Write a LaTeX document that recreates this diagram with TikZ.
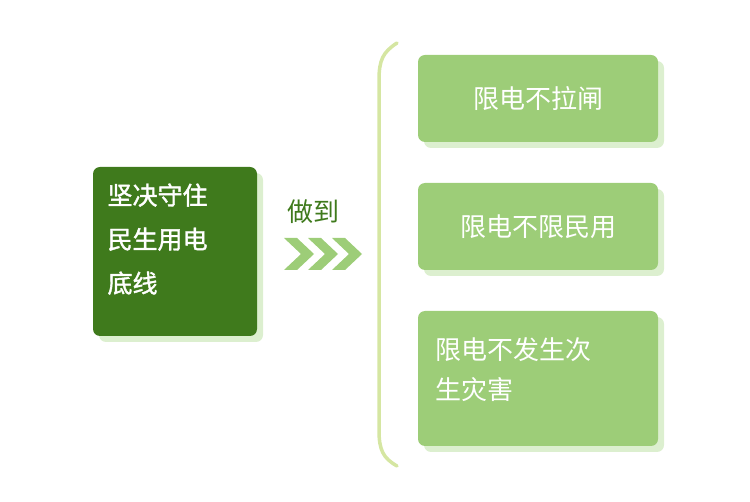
\documentclass[tikz,border=0pt]{standalone}
\usepackage{fontspec}
\newfontfamily\cjk{Noto Sans CJK SC}
\newfontfamily\cjkb[FakeBold=1.5]{Noto Sans CJK SC}
\definecolor{dark}{HTML}{3F7A1C}
\definecolor{mid}{HTML}{9DCD78}
\definecolor{shad}{HTML}{DCEFCF}
\definecolor{brace}{HTML}{D5E6A2}
\tikzset{
 rbox/.style={fill=mid,rounded corners=7pt,draw=none},
 sbox/.style={fill=shad,rounded corners=7pt,draw=none},
 rtext/.style={font=\cjk\fontsize{26}{40}\selectfont,text=white,align=left},
}
\begin{document}
\begin{tikzpicture}[x=1pt,y=-1pt]
\useasboundingbox (0,0) rectangle (750,502);
% left box
\fill[sbox] (99,173) rectangle (263,342);
\fill[fill=dark,rounded corners=7pt] (93,167) rectangle (257,336);
\node[font=\cjkb\fontsize{25}{44}\selectfont,text=white,align=left,anchor=north west] (lb) at (104,180) {坚决守住\\民生用电\\底线};
% label
\node[font=\cjk\fontsize{26}{30}\selectfont,text=dark] (zd) at (313,212) {做到};
\foreach \i in {0,1,2}{
 \fill[mid] ({284+24*\i},238) -- ({297+24*\i},238) -- ({314+24*\i},254) -- ({297+24*\i},270) -- ({284+24*\i},270) -- ({301+24*\i},254) -- cycle;
}
% brace
\draw[brace,line width=3.5pt,line cap=round] (397,43) .. controls (383,52) and (379,60) .. (379,80) -- (379,430) .. controls (379,450) and (383,458) .. (397,466);
% right boxes
\fill[sbox] (424,61) rectangle (664,148);
\fill[rbox] (418,55) rectangle (658,142);
\node[rtext] (r1) at (538,99) {限电不拉闸};
\fill[sbox] (424,189) rectangle (664,276);
\fill[rbox] (418,183) rectangle (658,270);
\node[rtext] (r2) at (538,227) {限电不限民用};
\fill[sbox] (424,317) rectangle (664,452);
\fill[rbox] (418,311) rectangle (658,446);
\node[rtext,anchor=north west] (r3) at (432,334) {限电不发生次\\生灾害};
\end{tikzpicture}
\end{document}
